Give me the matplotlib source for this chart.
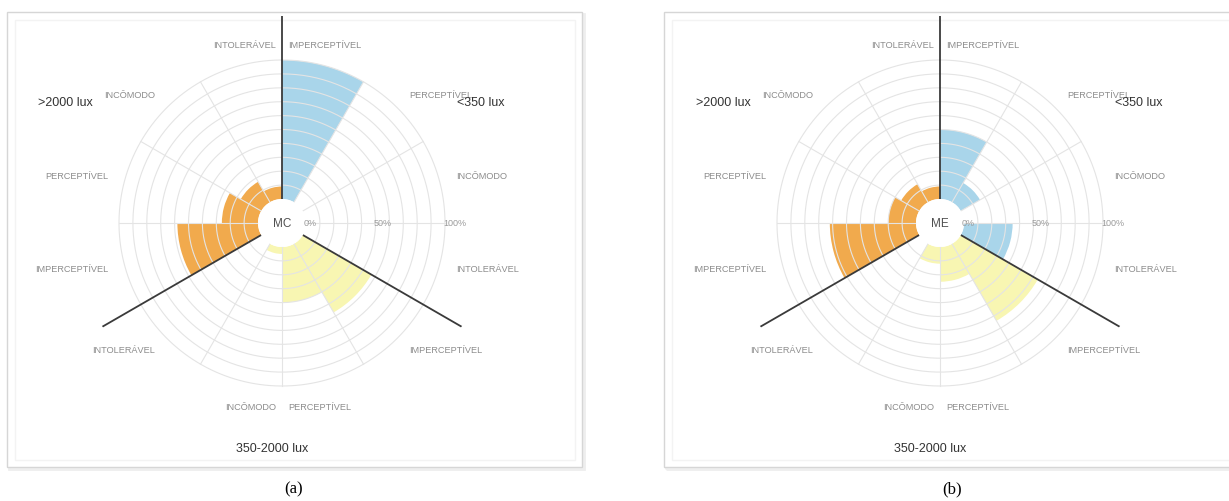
import matplotlib
matplotlib.use("Agg")
import matplotlib.pyplot as plt
import numpy as np
from matplotlib.patches import Rectangle

# annoyance levels, in clockwise order inside each illuminance band
LEVELS = ["IMPERCEPTÍVEL", "PERCEPTÍVEL", "INCÔMODO", "INTOLERÁVEL"]
GROUPS = ["<350 lux", "350-2000 lux", ">2000 lux"]
GROUP_COLORS = ["#a9d5ea", "#f8f6b2", "#f1aa4d"]

# share of answers (%) per level
MC_LOW = [100, 0, 0, 0]
MC_MID = [57, 40, 5, 0]
MC_HIGH = [58, 26, 17, 9]
ME_LOW = [50, 16, 0, 35]
ME_MID = [64, 25, 12, 0]
ME_HIGH = [62, 20, 15, 9]

PCT_TICKS = [0, 50, 100]
PCT_LABELS = ["0%", "50%", "100%"]

W, H = 1229, 501
HOLE_PX, FULL_PX = 24, 163          # pixel radius of 0% and 100%
PX_PER_UNIT = (FULL_PX - HOLE_PX) / 100
RORIGIN = -HOLE_PX / PX_PER_UNIT
RMAX = 132                          # black separators run past the grid
AX_R = (RMAX - RORIGIN) * PX_PER_UNIT

SANS = "Liberation Sans"
GRID = "#e4e4e4"


def fx(x):
    return x / W


def fy(y):
    return 1 - y / H


def frame(fig, x0, y0, x1, y1):
    kw = dict(transform=fig.transFigure, zorder=-5)
    fig.patches.append(Rectangle((fx(x0 + 2), fy(y1 + 2)), (x1 - x0) / W, (y1 - y0) / H,
                                 facecolor="none", edgecolor="#eeeeee", lw=2, **kw))
    fig.patches.append(Rectangle((fx(x0), fy(y1)), (x1 - x0) / W, (y1 - y0) / H,
                                 facecolor="white", edgecolor="#d6d6d6", lw=1, **kw))
    fig.patches.append(Rectangle((fx(x0 + 8), fy(y1 - 7)), (x1 - x0 - 15) / W, (y1 - y0 - 15) / H,
                                 facecolor="none", edgecolor="#f3f3f3", lw=1, **kw))


def rose(fig, cx, cy, name, low, mid, high):
    ax = fig.add_axes([fx(cx - AX_R), fy(cy + AX_R), 2 * AX_R / W, 2 * AX_R / H],
                      projection="polar")
    ax.set_zorder(2)
    ax.set_theta_zero_location("N")
    ax.set_theta_direction(-1)

    values = list(low) + list(mid) + list(high)
    colors = [c for c in GROUP_COLORS for _ in LEVELS]
    theta = np.radians(np.arange(len(values)) * 30 + 15)
    ax.bar(theta, values, width=np.radians(30), bottom=0, color=colors,
           edgecolor="none", linewidth=0, zorder=1)

    t = np.linspace(0, 2 * np.pi, 400)
    for r in range(10, 101, 10):
        ax.plot(t, np.full_like(t, r), color=GRID, lw=0.8, zorder=2)
    for a in range(0, 360, 30):
        if a % 120:
            ax.plot([np.radians(a)] * 2, [0, 100], color=GRID, lw=0.8, zorder=2)
    for a in (0, 120, 240):
        ax.plot([np.radians(a)] * 2, [0, RMAX], color="#3a3a3a", lw=1.3,
                zorder=3, solid_capstyle="butt")

    ax.set_ylim(0, RMAX)
    ax.set_rorigin(RORIGIN)
    ax.set_axis_off()

    # level labels around the rose
    for k in range(12):
        label = LEVELS[k % 4]
        ang = np.radians(15 + 30 * k)
        if k in (0, 5):
            x, y, ha = cx + 6, cy + (-178 if k == 0 else 184), "left"
        elif k in (6, 11):
            x, y, ha = cx - 6, cy + (-178 if k == 11 else 184), "right"
        else:
            x = cx + 180 * np.sin(ang)
            y = cy - 180 * np.cos(ang)
            ha = "left" if np.sin(ang) > 0 else "right"
        fig.text(fx(x), fy(y), label, ha=ha, va="center", fontsize=6.6,
                 color="#8c8c8c", family=SANS)

    fig.text(fx(cx + 175), fy(cy - 120), GROUPS[0], ha="left", va="center",
             fontsize=9, color="#333333", family=SANS)
    fig.text(fx(cx - 10), fy(cy + 226), GROUPS[1], ha="center", va="center",
             fontsize=9, color="#333333", family=SANS)
    fig.text(fx(cx - 189), fy(cy - 120), GROUPS[2], ha="right", va="center",
             fontsize=9, color="#333333", family=SANS)

    for p, lab in zip(PCT_TICKS, PCT_LABELS):
        x = cx + HOLE_PX + p * PX_PER_UNIT - 2
        fig.text(fx(x), fy(cy + 1), lab, ha="left", va="center", fontsize=6.5,
                 color="#9a9a9a", family=SANS)

    fig.text(fx(cx), fy(cy + 1), name, ha="center", va="center", fontsize=8.5,
             color="#505050", family=SANS)


fig = plt.figure(figsize=(W / 100, H / 100), dpi=100)
fig.patch.set_facecolor("white")

frame(fig, 7, 12, 582, 467)
frame(fig, 664, 12, 1239, 467)

rose(fig, 282, 223, "MC", MC_LOW, MC_MID, MC_HIGH)
rose(fig, 940, 223, "ME", ME_LOW, ME_MID, ME_HIGH)

fig.text(fx(294), fy(489), "(a)", ha="center", va="center", fontsize=12,
         family="Liberation Serif", color="black")
fig.text(fx(952), fy(489), "(b)", ha="center", va="center", fontsize=12,
         family="Liberation Serif", color="black")

fig.savefig("out.png", dpi=100, facecolor="white")
